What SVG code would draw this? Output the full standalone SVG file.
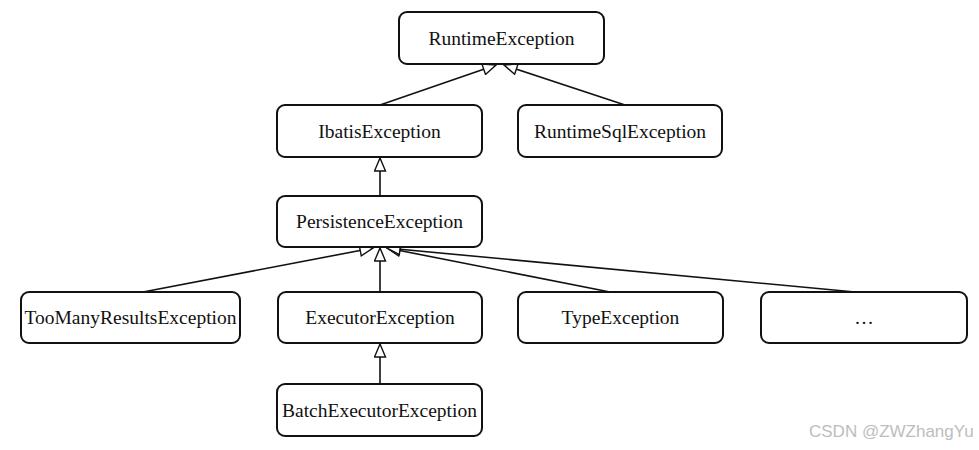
<svg xmlns="http://www.w3.org/2000/svg" width="979" height="450" viewBox="0 0 979 450">
<style>
.box{fill:#fff;stroke:#111;stroke-width:2}
.lbl{font-family:"Liberation Serif","Times New Roman",serif;font-size:19.5px;fill:#111;text-anchor:middle}
.edge{fill:none;stroke:#111;stroke-width:1.6;marker-end:url(#tri)}
.wm{font-family:"Liberation Sans",Arial,sans-serif;font-size:17px;fill:#bdbdbd}
</style>
<defs>
<marker id="tri" markerUnits="userSpaceOnUse" markerWidth="15" markerHeight="13" viewBox="0 0 15 13" refX="14" refY="6.5" orient="auto">
<path d="M1,1 L14,6.5 L1,12 Z" fill="#fff" stroke="#111" stroke-width="1.4"/>
</marker>
</defs>
<rect width="979" height="450" fill="#fff"/>
<g id="connectors">
<line class="edge" x1="380" y1="105" x2="496" y2="65"/>
<line class="edge" x1="625" y1="105" x2="504" y2="65"/>
<line class="edge" x1="380" y1="196" x2="380" y2="158"/>
<line class="edge" x1="143" y1="292" x2="373" y2="248"/>
<line class="edge" x1="380" y1="292" x2="380" y2="248"/>
<line class="edge" x1="610" y1="292" x2="387" y2="248"/>
<line class="edge" x1="855" y1="292" x2="387" y2="248"/>
<line class="edge" x1="380" y1="384" x2="380" y2="344"/>
</g>
<g id="RuntimeException"><rect class="box" x="399" y="12" width="205" height="52" rx="8"/><text class="lbl" x="501.5" y="44.5">RuntimeException</text></g>
<g id="IbatisException"><rect class="box" x="277" y="105" width="205" height="52" rx="8"/><text class="lbl" x="379.5" y="137.5">IbatisException</text></g>
<g id="RuntimeSqlException"><rect class="box" x="518" y="105" width="204" height="52" rx="8"/><text class="lbl" x="620" y="137.5">RuntimeSqlException</text></g>
<g id="PersistenceException"><rect class="box" x="277" y="196" width="205" height="51" rx="8"/><text class="lbl" x="379.5" y="228">PersistenceException</text></g>
<g id="TooManyResultsException"><rect class="box" x="21" y="292" width="219" height="51" rx="8"/><text class="lbl" x="130.5" y="324">TooManyResultsException</text></g>
<g id="ExecutorException"><rect class="box" x="278" y="292" width="204" height="51" rx="8"/><text class="lbl" x="380" y="324">ExecutorException</text></g>
<g id="TypeException"><rect class="box" x="518" y="292" width="205" height="51" rx="8"/><text class="lbl" x="620.5" y="324">TypeException</text></g>
<g id="Etc"><rect class="box" x="761" y="292" width="206" height="51" rx="8"/><text class="lbl" x="864" y="324">…</text></g>
<g id="BatchExecutorException"><rect class="box" x="277" y="384" width="205" height="52" rx="8"/><text class="lbl" x="379.5" y="416.5">BatchExecutorException</text></g>
<text class="wm" x="809" y="437">CSDN @ZWZhangYu</text>
</svg>
